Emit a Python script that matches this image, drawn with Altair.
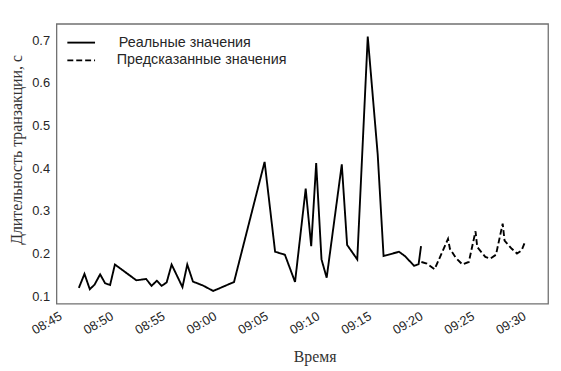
import altair as alt
import pandas as pd

# Real values
real_times = [
    "08:47:04", "08:47:37", "08:48:08", "08:48:36", "08:49:08", "08:49:37", "08:50:06", "08:50:34",
    "08:52:39", "08:53:36", "08:54:07", "08:54:38", "08:55:06", "08:55:35", "08:56:04", "08:57:07",
    "08:57:35", "08:58:08", "08:59:05", "09:00:06", "09:02:07", "09:05:05", "09:06:06", "09:07:03",
    "09:08:02", "09:09:04", "09:09:36", "09:10:05", "09:10:36", "09:11:06", "09:12:34", "09:13:05",
    "09:14:04", "09:15:05", "09:16:03", "09:16:37", "09:18:07", "09:18:41", "09:19:35", "09:20:01",
    "09:20:15",
]
real_values = [
    0.119, 0.152, 0.116, 0.127, 0.151, 0.130, 0.126, 0.174,
    0.137, 0.140, 0.124, 0.136, 0.124, 0.132, 0.174, 0.121,
    0.174, 0.134, 0.125, 0.112, 0.133, 0.415, 0.204, 0.197,
    0.133, 0.352, 0.217, 0.412, 0.186, 0.143, 0.409, 0.220,
    0.186, 0.709, 0.432, 0.194, 0.204, 0.194, 0.171, 0.175,
    0.217,
]

# Predicted values
pred_times = [
    "09:20:17", "09:20:49", "09:21:34", "09:22:52", "09:23:03", "09:23:37", "09:24:16", "09:24:53",
    "09:25:32", "09:25:42", "09:26:29", "09:26:58", "09:27:31", "09:28:10", "09:28:21", "09:29:03",
    "09:29:33", "09:30:00", "09:30:23",
]
pred_values = [
    0.180, 0.176, 0.163, 0.234, 0.211, 0.190, 0.174, 0.180,
    0.252, 0.215, 0.192, 0.188, 0.197, 0.270, 0.230, 0.211,
    0.200, 0.207, 0.230,
]

tick_minutes = [(8, 45), (8, 50), (8, 55), (9, 0), (9, 5), (9, 10), (9, 15), (9, 20), (9, 25), (9, 30)]

series_names = ["Реальные значения", "Предсказанные значения"]

rows = []
for t, v in zip(real_times, real_values):
    rows.append({"time": "2024-01-01T" + t, "value": v, "series": series_names[0]})
for t, v in zip(pred_times, pred_values):
    rows.append({"time": "2024-01-01T" + t, "value": v, "series": series_names[1]})
df = pd.DataFrame(rows)

x_domain = [
    alt.DateTime(year=2024, month=1, date=1, hours=8, minutes=44, seconds=54),
    alt.DateTime(year=2024, month=1, date=1, hours=9, minutes=32, seconds=34),
]
x_ticks = [alt.DateTime(year=2024, month=1, date=1, hours=h, minutes=m) for h, m in tick_minutes]

lines = alt.Chart(df).mark_line(strokeWidth=1.9, clip=True).encode(
    x=alt.X(
        "time:T",
        scale=alt.Scale(domain=x_domain),
        axis=alt.Axis(
            title="Время",
            format="%H:%M",
            values=x_ticks,
            labelAngle=-30,
            labelAlign="right",
            labelBaseline="top",
            labelPadding=6,
            ticks=False,
            grid=False,
            domain=False,
            labelFont="Liberation Sans",
            labelFontSize=13,
            labelColor="#262626",
            titleFont="Liberation Serif",
            titleFontSize=16,
            titleFontWeight="normal",
            titleColor="#333333",
            titleX=261,
            titleY=53,
            titleAlign="center",
            titleBaseline="middle",
            labelFlush=False,
        ),
    ),
    y=alt.Y(
        "value:Q",
        scale=alt.Scale(domain=[0.082, 0.739], nice=False, zero=False),
        axis=alt.Axis(
            title="Длительность транзакции, с",
            values=[0.1, 0.2, 0.3, 0.4, 0.5, 0.6, 0.7],
            format=".1f",
            ticks=False,
            grid=False,
            domain=False,
            labelPadding=7,
            labelFont="Liberation Sans",
            labelFontSize=13,
            labelColor="#262626",
            titleFont="Liberation Serif",
            titleFontSize=16,
            titleFontWeight="normal",
            titleColor="#333333",
            titleX=-40,
            titleY=127,
            titleAngle=270,
            titleAlign="center",
            titleBaseline="middle",
        ),
    ),
    color=alt.Color(
        "series:N",
        sort=series_names,
        scale=alt.Scale(domain=series_names, range=["black", "black"]),
        legend=None,
    ),
    strokeDash=alt.StrokeDash(
        "series:N",
        sort=series_names,
        scale=alt.Scale(domain=series_names, range=[[1, 0], [6, 3]]),
        legend=None,
    ),
)

# Legend (drawn inside the plot, top-left)
leg_solid = alt.Chart(pd.DataFrame({"label": [series_names[0]]})).mark_rule(
    color="black", strokeWidth=1.9
).encode(x=alt.value(11), x2=alt.value(39), y=alt.value(19))
leg_dash = alt.Chart(pd.DataFrame({"label": [series_names[1]]})).mark_rule(
    color="black", strokeWidth=1.9, strokeDash=[6, 3]
).encode(x=alt.value(11), x2=alt.value(39), y=alt.value(37))
leg_text1 = alt.Chart(pd.DataFrame({"label": [series_names[0]]})).mark_text(
    align="left", baseline="middle", font="Liberation Sans", fontSize=14.5, color="#262626"
).encode(x=alt.value(63), y=alt.value(19), text="label:N")
leg_text2 = alt.Chart(pd.DataFrame({"label": [series_names[1]]})).mark_text(
    align="left", baseline="middle", font="Liberation Sans", fontSize=14.5, color="#262626"
).encode(x=alt.value(61), y=alt.value(37), text="label:N")

chart = alt.layer(lines, leg_solid, leg_dash, leg_text1, leg_text2).properties(
    width=497,
    height=283,
    background="white",
    autosize=alt.AutoSizeParams(type="none"),
    padding={"left": 49, "top": 14, "right": 5, "bottom": 65},
).configure_view(
    stroke="#707070",
    strokeWidth=1.3,
)

chart.save("out.html", embed_options={"renderer": "svg", "actions": False})
